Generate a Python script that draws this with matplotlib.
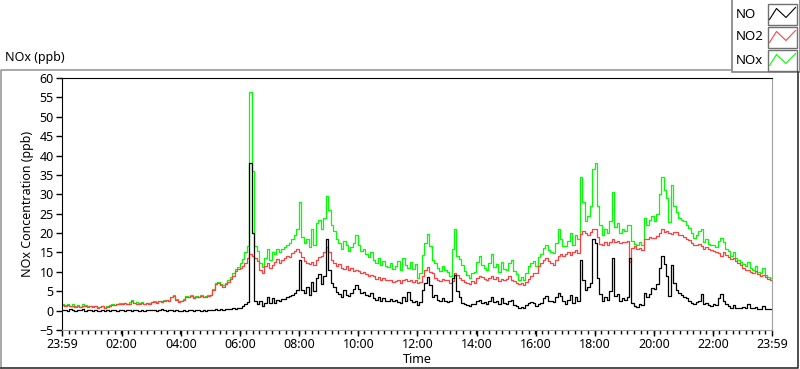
import numpy as np
import matplotlib.pyplot as plt
from matplotlib.patches import Rectangle

# letture ogni 5 minuti, da 23:59 del giorno prima a 23:59
minuti = np.arange(-1, 1440, 5)

# NO2 (ppb), una riga per ora
no2 = [
    1.4, 1.2, 1.5, 1.1, 1.3, 1.0, 1.2, 0.9, 1.1, 1.3, 1.0, 1.2,
    1.0, 1.1, 0.8, 0.9, 1.2, 0.7, 1.0, 1.3, 1.5, 1.4, 1.6, 1.8,
    1.7, 1.9, 1.6, 1.8, 2.6, 1.9, 1.7, 1.8, 2.0, 1.6, 1.9, 1.8,
    2.1, 2.3, 2.0, 2.4, 2.2, 2.5, 2.7, 2.4, 3.5, 3.8, 2.8, 2.3,
    2.5, 2.8, 3.6, 3.4, 3.7, 3.3, 3.6, 3.5, 3.8, 3.4, 3.6, 3.7,
    4.0, 5.2, 6.8, 7.2, 6.6, 6.2, 6.8, 7.4, 8.2, 9.0, 10.3, 10.8,
    11.0, 11.6, 12.4, 13.6, 14.6, 14.2, 13.6, 12.8, 10.6, 9.8, 11.4, 12.2,
    11.0, 11.8, 12.6, 13.2, 12.4, 13.0, 13.6, 14.0, 13.8, 14.8, 15.5, 15.8,
    15.0, 13.8, 12.8, 12.2, 12.0, 12.5, 11.8, 13.0, 13.8, 14.2, 15.0, 16.5,
    15.0, 13.0, 12.2, 11.6, 12.0, 11.0, 10.8, 11.4, 10.6, 11.0, 10.2, 10.6,
    10.2, 9.8, 10.0, 9.4, 9.0, 9.2, 8.8, 8.2, 8.6, 8.0, 8.4, 7.8,
    7.8, 8.0, 7.4, 7.6, 8.0, 7.2, 7.8, 8.2, 7.6, 8.0, 7.4, 8.0,
    7.0, 7.4, 9.0, 10.6, 11.2, 10.0, 9.6, 8.4, 8.0, 7.6, 8.2, 7.8,
    8.0, 7.0, 7.6, 9.6, 9.2, 8.4, 8.0, 7.4, 7.0, 6.8, 7.6, 7.2,
    8.4, 9.0, 8.6, 8.2, 7.8, 8.4, 9.0, 8.2, 8.6, 7.6, 8.2, 7.8,
    8.2, 8.8, 8.0, 7.6, 7.2, 6.8, 7.0, 6.6, 7.4, 8.2, 9.0, 9.6,
    9.8, 11.6, 12.4, 13.0, 13.6, 12.8, 12.2, 11.8, 13.0, 14.2, 14.6, 14.0,
    14.6, 15.0, 14.4, 15.2, 15.6, 14.8, 19.8, 20.6, 20.0, 19.6, 20.4, 21.0,
    21.0, 19.0, 17.2, 16.8, 17.6, 17.0, 17.8, 18.4, 17.6, 18.0, 17.4, 17.8,
    17.6, 18.0, 12.6, 16.2, 16.6, 15.8, 16.2, 15.6, 18.6, 18.4, 19.0, 18.8,
    18.8, 19.2, 20.0, 21.0, 20.4, 20.6, 20.0, 19.8, 20.4, 20.2, 19.6, 19.4,
    19.0, 18.6, 18.2, 17.4, 17.0, 16.8, 17.2, 16.6, 16.0, 16.4, 15.8, 15.6,
    15.4, 15.0, 14.8, 14.2, 15.0, 14.4, 13.8, 13.2, 13.6, 12.8, 12.2, 11.8,
    11.0, 10.6, 10.4, 10.0, 9.8, 10.2, 9.4, 9.0, 9.2, 8.6, 8.2, 8.0,
    7.9,
]

# NOx (ppb)
nox = [
    1.6, 1.5, 1.8, 1.2, 1.6, 1.1, 1.5, 1.0, 1.7, 1.4, 1.1, 1.3,
    1.1, 1.3, 0.9, 1.0, 1.3, 0.8, 1.1, 1.5, 1.6, 1.5, 1.7, 1.9,
    1.9, 2.0, 1.8, 2.1, 2.7, 2.0, 2.1, 1.9, 2.2, 1.7, 2.0, 2.0,
    2.3, 2.5, 2.2, 2.6, 2.4, 2.7, 2.8, 2.6, 3.6, 3.9, 2.9, 2.4,
    2.6, 3.0, 3.8, 3.5, 3.9, 3.5, 3.7, 3.6, 4.0, 3.5, 3.8, 3.9,
    4.1, 5.5, 7.2, 7.5, 6.9, 6.5, 7.2, 7.9, 8.6, 9.8, 10.8, 11.2,
    12.2, 13.2, 15.0, 16.6, 56.5, 36.0, 16.6, 15.4, 12.4, 11.2, 13.6, 16.0,
    13.0, 15.0, 14.5, 16.0, 15.0, 15.8, 16.5, 17.0, 17.5, 18.5, 19.5, 21.0,
    28.0, 19.0, 17.5, 18.5, 16.5, 21.0, 17.0, 22.5, 23.5, 21.0, 24.0, 29.5,
    26.0, 22.0, 20.5, 18.5, 17.5, 16.0, 18.0, 17.0, 15.5, 16.5, 17.5, 19.5,
    17.0, 15.5, 16.0, 14.5, 13.8, 15.0, 13.0, 12.2, 13.5, 11.8, 12.8, 11.6,
    11.2, 12.4, 10.8, 11.6, 12.8, 10.6, 13.6, 11.8, 11.0, 12.6, 10.8, 12.0,
    8.4, 9.6, 14.4, 17.5, 19.8, 16.6, 13.0, 12.4, 11.0, 10.2, 11.6, 10.4,
    10.0, 9.0, 16.0, 21.0, 14.0, 13.2, 11.8, 10.2, 9.2, 8.4, 9.6, 10.0,
    12.6, 14.0, 11.8, 11.0, 10.4, 12.2, 14.6, 11.2, 12.0, 10.0, 12.6, 10.8,
    10.6, 12.4, 13.0, 10.2, 9.4, 8.0, 8.6, 7.8, 9.8, 11.6, 12.4, 12.8,
    11.4, 13.8, 14.6, 16.2, 16.8, 15.6, 15.2, 14.8, 17.5, 21.0, 18.5, 16.6,
    16.6, 18.0, 20.0, 17.0, 19.5, 18.5, 34.5, 28.0, 23.0, 24.4, 27.0, 36.5,
    38.0, 27.0, 22.0, 19.5, 21.0, 20.0, 23.0, 30.5, 21.5, 22.5, 20.0, 21.0,
    20.5, 22.0, 22.0, 18.0, 17.2, 16.8, 17.8, 17.0, 24.0, 22.0, 23.5, 24.5,
    23.0, 25.0, 30.0, 34.5, 31.0, 29.0, 22.8, 32.5, 27.0, 25.5, 24.0, 23.5,
    23.0, 22.0, 21.4, 20.0, 18.8, 19.4, 20.6, 21.0, 17.8, 18.4, 17.2, 17.0,
    17.0, 16.4, 18.0, 18.8, 17.6, 16.0, 15.4, 14.2, 15.0, 13.6, 13.0, 12.6,
    12.0, 11.4, 12.6, 11.0, 10.6, 11.4, 10.0, 9.6, 11.0, 9.2, 8.6, 8.4,
    8.3,
]

# NO (ppb)
no = [
    0.1, 0.2, 0.0, 0.3, 0.1, 0.0, 0.2, 0.1, 0.4, 0.0, 0.1, 0.1,
    0.0, 0.1, 0.0, -0.1, 0.1, 0.0, 0.1, 0.0, 0.2, 0.1, 0.0, 0.1,
    0.1, 0.0, 0.2, 0.1, 0.0, 0.1, 0.2, 0.0, 0.1, 0.0, 0.1, 0.2,
    0.1, 0.2, 0.0, 0.1, 0.3, 0.1, 0.0, 0.2, 0.1, 0.0, 0.1, 0.0,
    0.0, 0.1, 0.0, 0.2, 0.1, 0.0, 0.1, 0.2, 0.0, 0.1, 0.0, 0.2,
    0.1, 0.2, 0.3, 0.2, 0.3, 0.2, 0.4, 0.3, 0.5, 0.6, 0.4, 0.7,
    0.8, 1.2, 1.6, 2.2, 38.0, 20.0, 2.4, 1.8, 2.6, 1.2, 2.0, 3.6,
    2.0, 3.2, 1.9, 2.8, 2.5, 2.9, 3.0, 3.4, 3.8, 4.0, 4.6, 5.2,
    13.0, 5.2, 4.6, 6.0, 4.0, 7.5, 5.0, 8.5, 9.5, 6.8, 9.0, 18.5,
    10.5, 7.0, 6.0, 4.8, 4.2, 3.5, 5.2, 4.0, 3.8, 4.5, 5.5, 6.5,
    5.5, 4.6, 4.8, 4.0, 3.8, 4.5, 3.2, 2.8, 3.6, 2.6, 3.2, 2.5,
    2.6, 3.0, 2.4, 2.8, 2.2, 2.0, 3.4, 2.6, 4.8, 2.8, 2.2, 2.6,
    1.5, 2.2, 5.4, 7.0, 8.6, 6.6, 3.4, 4.0, 2.8, 2.4, 3.2, 2.6,
    2.2, 2.5, 8.5, 9.2, 5.0, 3.4, 2.0, 1.6, 1.4, 1.2, 1.6, 1.8,
    2.4, 2.8, 2.0, 2.2, 1.8, 2.6, 3.6, 2.2, 2.4, 1.8, 3.2, 2.0,
    1.6, 2.4, 2.8, 1.4, 1.2, 0.8, 0.9, 0.6, 1.4, 2.0, 2.2, 2.0,
    1.2, 1.8, 2.0, 3.2, 3.8, 2.6, 2.4, 2.2, 3.4, 4.6, 3.8, 2.6,
    1.8, 2.8, 4.0, 2.0, 3.4, 2.6, 13.0, 8.0, 5.2, 6.0, 7.0, 18.5,
    17.5, 8.5, 4.2, 2.6, 3.4, 2.8, 5.0, 13.5, 3.8, 4.4, 2.6, 3.2,
    2.8, 3.6, 13.5, 2.0, 1.2, 1.0, 1.6, 1.4, 4.6, 3.6, 4.4, 5.8,
    5.5, 6.8, 11.0, 14.0, 12.0, 9.0, 3.8, 11.8, 7.0, 5.4, 4.6, 4.0,
    3.6, 3.2, 2.6, 2.0, 1.6, 2.2, 2.6, 4.4, 1.6, 2.0, 1.4, 1.2,
    1.6, 1.4, 3.2, 4.4, 2.6, 1.6, 1.2, 0.8, 1.4, 0.7, 0.6, 0.8,
    0.9, 0.7, 1.6, 0.8, 0.6, 0.9, 0.5, 0.4, 1.2, 0.5, 0.3, 0.4,
    0.4,
]

etichette_x = ['23:59', '02:00', '04:00', '06:00', '08:00', '10:00', '12:00',
               '14:00', '16:00', '18:00', '20:00', '22:00', '23:59']
pos_x = [-1] + list(range(120, 1321, 120)) + [1439]

plt.rcParams['font.family'] = ['Noto Sans', 'DejaVu Sans']
plt.rcParams['font.size'] = 9

fig = plt.figure(figsize=(8, 3.69), dpi=100)

# ---------- cornice e legenda (coordinate in pixel) ----------
ov = fig.add_axes([0, 0, 1, 1])
ov.set_xlim(0, 800)
ov.set_ylim(369, 0)
ov.axis('off')
ov.plot([0.5, 0.5, 731], [367.5, 69.5, 69.5], color='#9a9a9a', lw=1.2)
ov.plot([0.5, 797.5, 797.5], [367.5, 367.5, 72], color='#303030', lw=1.2)
ov.text(5, 58, 'NOx (ppb)', fontsize=9, va='center', ha='left')

ov.add_patch(Rectangle((731.5, -1), 68, 73, fill=False, ec='#808080', lw=1.2))
nomi = ['NO', 'NO2', 'NOx']
colori = ['black', '#ff4040', '#00ff00']
for i, (nome, col) in enumerate(zip(nomi, colori)):
    y0 = 3.5 + i * 23
    ov.text(736, y0 + 10.5, nome, fontsize=9.5, va='center', ha='left')
    ov.add_patch(Rectangle((768, y0), 29, 21, fill=False, ec='#707070', lw=1))
    ov.plot([769.5, 776.5, 786, 795.5], [y0 + 16, y0 + 5, y0 + 14, y0 + 4],
            color=col, lw=0.8)

# ---------- grafico ----------
ax = fig.add_axes([62 / 800, 1 - 330 / 369, 710 / 800, 252 / 369])
ax.plot(minuti, nox, color='#00ff00', lw=0.9, drawstyle='steps-post', label='NOx')
ax.plot(minuti, no2, color='#ff4040', lw=0.9, drawstyle='steps-post', label='NO2')
ax.plot(minuti, no, color='black', lw=0.9, drawstyle='steps-post', label='NO')

ax.set_xlim(-1, 1439)
ax.set_ylim(-5, 60)
ax.set_yticks(range(-5, 61, 5))
ax.set_xticks(pos_x)
ax.set_xticklabels(etichette_x)
ax.set_xticks(np.linspace(-1, 1439, 109), minor=True)
ax.tick_params(axis='both', which='major', direction='out', length=4, width=1, pad=2)
ax.tick_params(axis='x', which='minor', direction='out', length=3, width=1)
ax.set_ylabel('NOx Concentration (ppb)', labelpad=4)
ax.set_xlabel('Time', labelpad=1)

for lato in ['top', 'left']:
    ax.spines[lato].set_color('black')
for lato in ['bottom', 'right']:
    ax.spines[lato].set_color('#a0a0a0')

fig.savefig('out.png', dpi=100)
